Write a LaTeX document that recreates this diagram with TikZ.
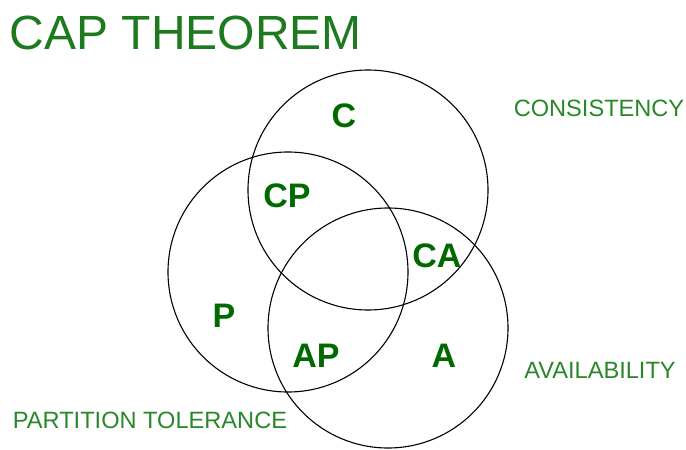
\documentclass[tikz,border=0pt]{standalone}
\usepackage{fontspec}
\setmainfont{Liberation Sans}
\usepackage{tikz}
\usepackage{xcolor}
\definecolor{titlegreen}{RGB}{30,122,30}
\definecolor{labelgreen}{RGB}{40,135,40}
\definecolor{zonegreen}{RGB}{0,105,0}

\begin{document}
\begin{tikzpicture}[x=1pt, y=-1pt,
  setcircle/.style={draw=black, line width=1.1pt},
  zone/.style={zonegreen, inner sep=0, font=\fontsize{34}{36}\selectfont\bfseries},
  propname/.style={labelgreen, inner sep=0, font=\fontsize{23.6}{25}\selectfont}]
  \useasboundingbox (0,0) rectangle (686,450);
  % Title
  \node[titlegreen, inner sep=0, font=\fontsize{48}{52}\selectfont] (title) at (186,33)
    {CAP THEOREM};
  % Circles
  \draw[setcircle] (368,190) circle (120);
  \draw[setcircle] (288,272) circle (120);
  \draw[setcircle] (388,328) circle (120);
  % Zones
  \node[zone] (c) at (344,116) {C};
  \node[zone] (cp) at (287,196) {CP};
  \node[zone] (ca) at (437,256) {CA};
  \node[zone] (p) at (224,316) {P};
  \node[zone] (ap) at (316,356) {AP};
  \node[zone] (a) at (444,356) {A};
  % Property names
  \node[propname] (cons) at (599,108) {CONSISTENCY};
  \node[propname] (avail) at (600,370) {AVAILABILITY};
  \node[propname] (part) at (150,420) {PARTITION TOLERANCE};
\end{tikzpicture}
\end{document}
